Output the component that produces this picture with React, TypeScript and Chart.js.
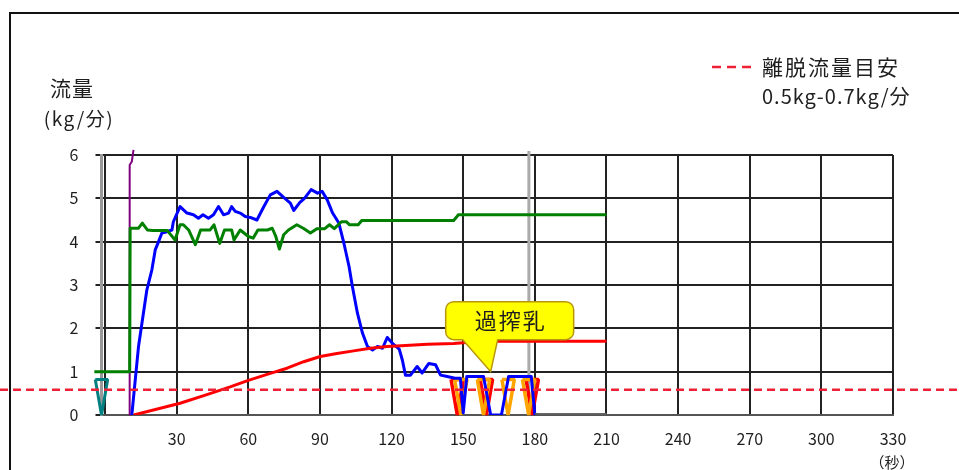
import React, { useEffect, useRef } from 'react';
import { Chart, registerables } from 'chart.js';

Chart.register(...registerables);

// ---------- data ----------
const X_TICKS = [0, 30, 60, 90, 120, 150, 180, 210, 240, 270, 300, 330];
const Y_TICKS = [0, 1, 2, 3, 4, 5, 6];
const X_MIN = -1.5;
const X_MAX = 330;
const Y_MIN = 0;
const Y_MAX = 6;

const Y_TITLE_1 = '流量';
const Y_TITLE_2 = '(kg/分)';
const X_UNIT = '（秒）';
const LEGEND_1 = '離脱流量目安';
const LEGEND_2 = '0.5kg-0.7kg/分';
const CALLOUT_TEXT = '過搾乳';

// guide level (kg/min) of the red dashed line
const GUIDE_LEVEL = 0.58;
// grey time marker (s)
const MARKER_TIME = 177.5;
// callout anchor [s, kg/min]
const CALLOUT_AT: [number, number] = [161.5, 1.0];

const greenFlow: [number, number][] = [
  [-4.5, 1], [10.3, 1], [10.5, 4.31], [14, 4.31], [15.6, 4.43], [17.7, 4.27], [20, 4.26],
  [26, 4.26], [29.3, 4.04], [31.4, 4.39], [32.8, 4.39], [35, 4.27], [37.8, 3.93], [40, 4.27],
  [44, 4.27], [45.6, 4.39], [48, 3.96], [50, 4.27], [53, 4.27], [54, 4.04], [56.6, 4.27],
  [60, 4.12], [62, 4.08], [64, 4.27], [68, 4.27], [70, 4.31], [71.5, 4.12], [73, 3.83],
  [74.8, 4.16], [76.8, 4.27], [80.3, 4.39], [83, 4.31], [86, 4.2], [88.7, 4.3], [92, 4.3],
  [94, 4.39], [96, 4.3], [99, 4.46], [101, 4.46], [102.4, 4.39], [106, 4.39], [107.5, 4.49],
  [146, 4.49], [148, 4.62], [210, 4.62],
];

const blueFlow: [number, number][] = [
  [11.2, 0], [14, 1.58], [17.5, 2.89], [19.6, 3.35], [21, 3.81], [22.4, 4.0], [23.8, 4.2],
  [25.9, 4.23], [28, 4.27], [28.6, 4.46], [31.4, 4.81], [34.3, 4.66], [37, 4.62], [39.1, 4.54],
  [41, 4.62], [43.3, 4.54], [45.4, 4.62], [47.5, 4.81], [49.6, 4.62], [51.7, 4.66], [53, 4.81],
  [54.5, 4.7], [56.6, 4.66], [58.7, 4.58], [60.8, 4.56], [63.6, 4.5], [66.4, 4.8], [69.2, 5.08],
  [72, 5.16], [74.8, 5.02], [77.6, 4.89], [79, 4.72], [81.5, 4.9], [83.5, 5.0], [86.3, 5.2],
  [89, 5.12], [90.9, 5.16], [93, 4.97], [95.3, 4.66], [97.9, 4.43], [100, 3.97], [102.2, 3.42],
  [103.6, 2.96], [105.7, 2.35], [107.8, 1.89], [109.9, 1.58], [112, 1.5], [114.1, 1.58],
  [116.2, 1.54], [118.2, 1.79], [120.6, 1.64], [123.2, 1.52], [124.5, 1.27], [125.8, 0.92],
  [127.9, 0.92], [130.7, 1.12], [132.8, 0.97], [135.6, 1.19], [138.4, 1.16], [140.5, 0.92],
  [143.3, 0.89], [146.5, 0.85], [148.8, 0.85], [150, 0.05], [151.5, 0.89], [158.5, 0.89],
  [161.5, 0], [166, 0], [169, 0.89], [178.5, 0.89], [180, 0],
];

const redFlow: [number, number][] = [
  [12, 0], [31.4, 0.27], [42, 0.46], [52.4, 0.65], [60, 0.8], [69.2, 0.96], [76.2, 1.08],
  [83.2, 1.23], [90.1, 1.35], [97.1, 1.42], [104.1, 1.48], [111.1, 1.54], [118.1, 1.58],
  [124, 1.6], [135, 1.63], [146, 1.65], [150, 1.67], [160, 1.7], [210, 1.7],
];

const purpleFlow: [number, number][] = [
  [10.2, 0], [10.3, 5.77], [11.2, 5.85], [11.9, 6.12],
];

const greyTail: [number, number][] = [
  [180, 0.03], [210, 0.03],
];

// event markers (time in s)
const tealMarks = [-1.5];
const redMarks = [147.5, 159.7, 178.9];
const orangeMarks = [149, 158.5, 168.8, 177.4];
const MARK_TOP = 0.82;
const MARK_HALF = 2.6;

// ---------- helpers ----------
const toPts = (arr: [number, number][]) => arr.map(([x, y]) => ({ x, y }));

const triangles = (centers: number[]) => {
  const pts: { x: number; y: number | null }[] = [];
  centers.forEach((c) => {
    pts.push({ x: c - MARK_HALF, y: MARK_TOP });
    pts.push({ x: c, y: 0 });
    pts.push({ x: c + MARK_HALF, y: MARK_TOP });
    pts.push({ x: c - MARK_HALF, y: MARK_TOP });
    pts.push({ x: c + MARK_HALF + 0.01, y: null });
  });
  return pts;
};

const FONT = '"Noto Sans CJK JP", "Noto Sans", sans-serif';
const TEXT = '#1e1e1e';

const decor = {
  id: 'decor',
  beforeDraw(chart: any) {
    const ctx = chart.ctx as CanvasRenderingContext2D;
    ctx.save();
    ctx.strokeStyle = '#111';
    ctx.lineWidth = 2;
    ctx.beginPath();
    ctx.moveTo(10, chart.height);
    ctx.lineTo(10, 13);
    ctx.lineTo(chart.width, 13);
    ctx.stroke();
    ctx.restore();
  },
  beforeDatasetsDraw(chart: any) {
    const ctx = chart.ctx as CanvasRenderingContext2D;
    const { x } = chart.scales;
    const a = chart.chartArea;
    const px = x.getPixelForValue(MARKER_TIME);
    ctx.save();
    ctx.strokeStyle = '#aaaaaa';
    ctx.lineWidth = 3;
    ctx.beginPath();
    ctx.moveTo(px, a.top - 4);
    ctx.lineTo(px, a.bottom);
    ctx.stroke();
    ctx.restore();
  },
  afterDatasetsDraw(chart: any) {
    const ctx = chart.ctx as CanvasRenderingContext2D;
    const { x, y } = chart.scales;
    // guide dashed line across the whole width
    const gy = y.getPixelForValue(GUIDE_LEVEL);
    ctx.save();
    ctx.strokeStyle = '#EE2236';
    ctx.lineWidth = 2.5;
    ctx.setLineDash([8, 5]);
    ctx.beginPath();
    ctx.moveTo(0, gy);
    ctx.lineTo(chart.width, gy);
    ctx.stroke();
    ctx.restore();

    // callout
    const tx = x.getPixelForValue(CALLOUT_AT[0]);
    const ty = y.getPixelForValue(CALLOUT_AT[1]);
    const L = tx - 45, R = tx + 83, T = ty - 70, B = ty - 32, r = 8;
    ctx.save();
    ctx.beginPath();
    ctx.moveTo(L + r, T);
    ctx.lineTo(R - r, T);
    ctx.arcTo(R, T, R, T + r, r);
    ctx.lineTo(R, B - r);
    ctx.arcTo(R, B, R - r, B, r);
    ctx.lineTo(tx + 7, B);
    ctx.lineTo(tx, ty);
    ctx.lineTo(tx - 28, B);
    ctx.lineTo(L + r, B);
    ctx.arcTo(L, B, L, B - r, r);
    ctx.lineTo(L, T + r);
    ctx.arcTo(L, T, L + r, T, r);
    ctx.closePath();
    ctx.fillStyle = '#FFFF00';
    ctx.fill();
    ctx.strokeStyle = '#B8960C';
    ctx.lineWidth = 1.5;
    ctx.stroke();
    ctx.fillStyle = TEXT;
    ctx.font = `22px ${FONT}`;
    ctx.textAlign = 'center';
    ctx.textBaseline = 'middle';
    (ctx as any).letterSpacing = '2px';
    ctx.fillText(CALLOUT_TEXT, tx + 20, ty - 51);
    ctx.restore();
  },
  afterDraw(chart: any) {
    const ctx = chart.ctx as CanvasRenderingContext2D;
    ctx.save();
    ctx.fillStyle = TEXT;
    ctx.textBaseline = 'middle';
    // y title
    ctx.textAlign = 'center';
    ctx.font = `21px ${FONT}`;
    (ctx as any).letterSpacing = '1px';
    ctx.fillText(Y_TITLE_1, 72, 88);
    ctx.font = `19px ${FONT}`;
    (ctx as any).letterSpacing = '1.5px';
    ctx.fillText(Y_TITLE_2, 79, 119);
    // x unit
    ctx.font = `15px ${FONT}`;
    (ctx as any).letterSpacing = '0px';
    ctx.fillText(X_UNIT, 892, 462);
    // legend
    ctx.strokeStyle = '#EE2236';
    ctx.lineWidth = 2.5;
    ctx.setLineDash([9, 6]);
    ctx.beginPath();
    ctx.moveTo(712, 67);
    ctx.lineTo(753, 67);
    ctx.stroke();
    ctx.setLineDash([]);
    ctx.textAlign = 'left';
    ctx.font = `21px ${FONT}`;
    (ctx as any).letterSpacing = '2px';
    ctx.fillText(LEGEND_1, 762, 67);
    ctx.font = `20px ${FONT}`;
    (ctx as any).letterSpacing = '1px';
    ctx.fillText(LEGEND_2, 762, 96);
    ctx.restore();
  },
};

export default function App() {
  const ref = useRef<HTMLCanvasElement | null>(null);

  useEffect(() => {
    if (!ref.current) return;
    Chart.defaults.font.family = FONT;
    const line = (data: any[], color: string, width: number, extra: any = {}) => ({
      data,
      borderColor: color,
      backgroundColor: color,
      borderWidth: width,
      pointRadius: 0,
      tension: 0,
      fill: false,
      spanGaps: false,
      borderJoinStyle: 'round',
      ...extra,
    });
    const chart = new Chart(ref.current, {
      type: 'line',
      data: {
        datasets: [
          line(toPts(greyTail), '#666666', 1.5),
          line(toPts(redFlow), '#FF0000', 3),
          line(toPts(greenFlow), '#008000', 3, { clip: false }),
          line(toPts(blueFlow), '#0000FF', 3),
          line(toPts(purpleFlow), '#800080', 2, { clip: false }),
          line(triangles(orangeMarks), '#FFA500', 3.5, { clip: false, borderJoinStyle: 'bevel' }),
          line(triangles(redMarks), '#FF0000', 3.5, { clip: false, borderJoinStyle: 'bevel' }),
          line(triangles(tealMarks), '#008080', 3, { clip: false, borderJoinStyle: 'bevel' }),
        ],
      },
      options: {
        responsive: false,
        devicePixelRatio: 1,
        animation: false,
        events: [],
        layout: { padding: { left: 61.5, right: 66, top: 155, bottom: 0 } },
        plugins: { legend: { display: false }, tooltip: { enabled: false }, title: { display: false } },
        scales: {
          x: {
            type: 'linear',
            min: X_MIN,
            max: X_MAX,
            afterBuildTicks: (s: any) => {
              s.ticks = X_TICKS.map((value) => ({ value }));
            },
            afterFit: (s: any) => {
              s.height = 55;
            },
            grid: { color: '#222', lineWidth: 2, drawTicks: false },
            border: { display: true, color: '#555', width: 2 },
            ticks: {
              padding: 14,
              autoSkip: false,
              maxRotation: 0,
              color: TEXT,
              font: { size: 16 },
              callback: (v: any) => (v === 0 ? '' : String(v)),
            },
          },
          y: {
            type: 'linear',
            min: Y_MIN,
            max: Y_MAX,
            afterBuildTicks: (s: any) => {
              s.ticks = Y_TICKS.map((value) => ({ value }));
            },
            afterFit: (s: any) => {
              s.width = 40;
            },
            grid: { color: '#222', lineWidth: 2, tickLength: 6, drawTicks: true },
            border: { display: true, color: '#999', width: 3 },
            ticks: { padding: 17, color: TEXT, font: { size: 16 } },
          },
        },
      },
      plugins: [decor],
    } as any);
    return () => chart.destroy();
  }, []);

  return (
    <div style={{ position: 'fixed', left: 0, top: 0, width: 959, height: 470, background: '#fff' }}>
      <canvas ref={ref} width={959} height={470} style={{ display: 'block', width: 959, height: 470 }} />
    </div>
  );
}
